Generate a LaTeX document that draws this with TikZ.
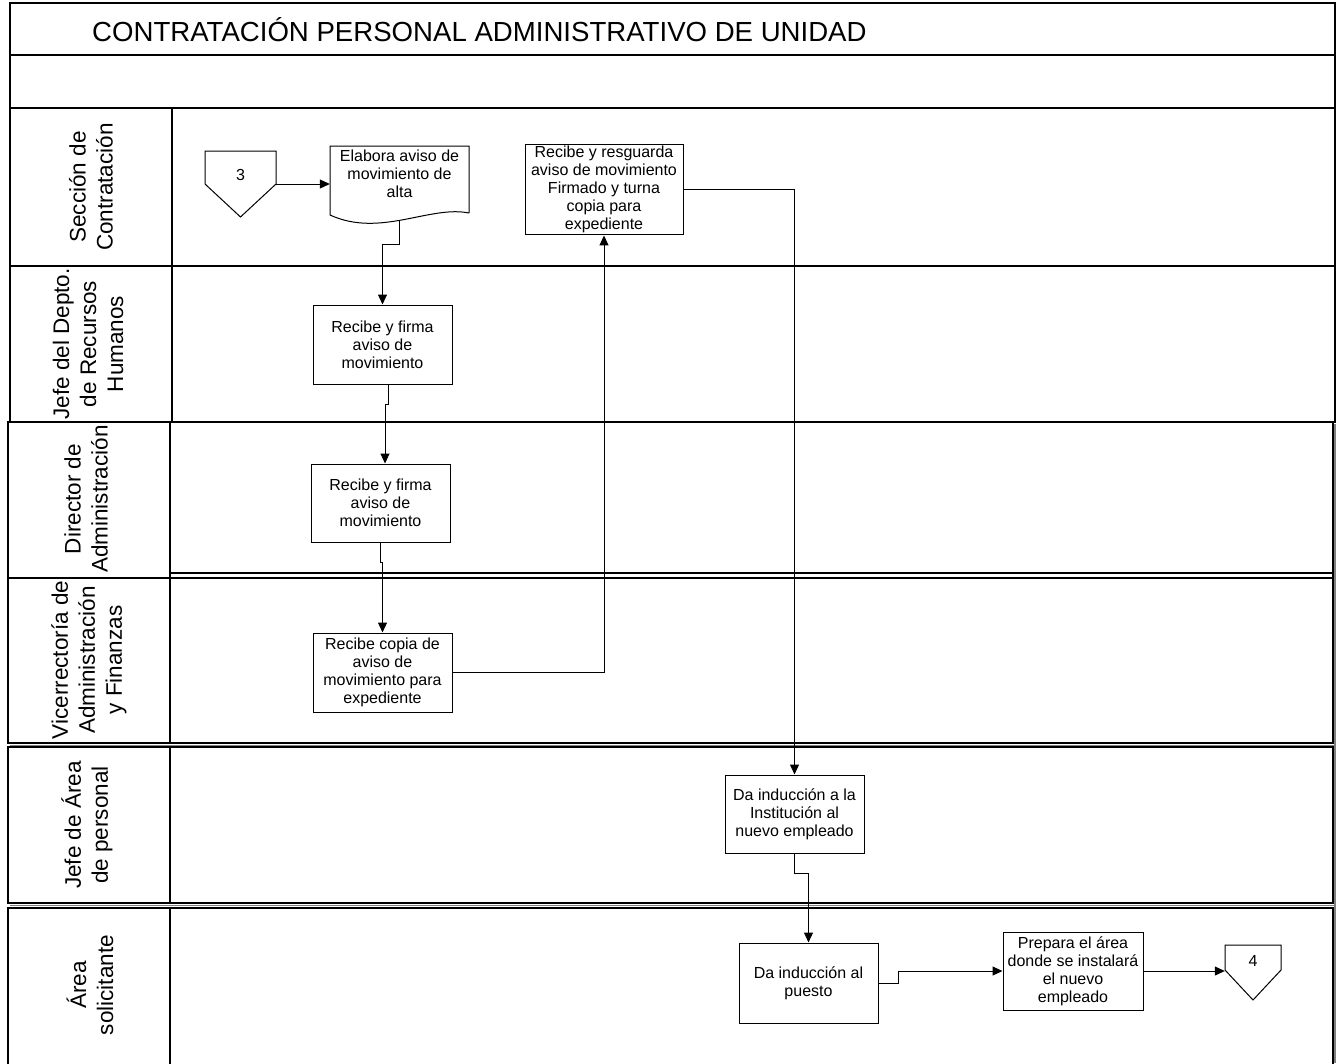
\documentclass[tikz,border=0pt]{standalone}
\usepackage{fontspec}
\setmainfont{Liberation Sans}
\usetikzlibrary{arrows.meta,calc}
\tikzset{
  proc/.style={draw, line width=1pt, align=center, inner sep=2pt, font=\fontsize{16}{18}\selectfont},
  lanelab/.style={rotate=90, align=center, inner sep=0pt, font=\fontsize{22.5}{27}\selectfont},
  arr/.style={line width=1pt, -{Triangle[length=10pt,width=9pt]}},
  lanebox/.style={line width=1.2pt},
  shade/.style={line width=1.4pt, gray},
  anchorbox/.style={inner sep=0pt},
  smalltext/.style={font=\fontsize{16}{18}\selectfont, align=center, inner sep=0pt}
}
\begin{document}
\begin{tikzpicture}[x=1pt,y=-1pt]
\useasboundingbox (0,0) rectangle (1340,1063);
% header
\draw[lanebox] (10,3) rectangle (1335,55);
\draw[lanebox] (10,55) rectangle (1335,108);
\node[anchor=west, inner sep=0pt, font=\fontsize{27.6}{32}\selectfont] (title) at (92,30) {CONTRATACIÓN PERSONAL ADMINISTRATIVO DE UNIDAD};
% lanes
\draw[shade] (1335,424) -- (1335,1063);
\draw[shade] (10,745.5) -- (1335,745.5);
\draw[shade] (10,905.5) -- (1335,905.5);
\draw[lanebox] (10,108) rectangle (1335,266);
\draw[lanebox] (172,108) -- (172,266);
\draw[lanebox] (10,266) rectangle (1335,422);
\draw[lanebox] (172,266) -- (172,422);
\draw[lanebox] (8,422) rectangle (1333,578);
\draw[lanebox] (170,422) -- (170,578);
\draw[lanebox] (170,573) -- (1333,573);
\draw[lanebox] (8,578) rectangle (1333,743);
\draw[lanebox] (170,578) -- (170,743);
\draw[lanebox] (8,747) rectangle (1333,903);
\draw[lanebox] (170,747) -- (170,903);
\draw[lanebox] (8,1070) -- (8,908) -- (1333,908) -- (1333,1070);
\draw[lanebox] (170,908) -- (170,1070);
% lane labels
\node[lanelab] (l1) at (91,187) {Sección de\\Contratación};
\node[lanelab] (l2) at (88,344) {Jefe del Depto.\\de Recursos\\Humanos};
\node[lanelab] (l3) at (86,499) {Director de\\Administración};
\node[lanelab] (l4) at (89,660) {Vicerrectoría de\\Administración\\y Finanzas};
\node[lanelab] (l5) at (87,825) {Jefe de Área\\de personal};
\node[lanelab] (l6) at (90,985) {Área\\solicitante};
% off-page connector 3
\draw[line width=1pt] (205,151) -- (276,151) -- (276,184) -- (240.5,217) -- (205,184) -- cycle;
\node[anchorbox, minimum width=71pt, minimum height=66pt] (c3) at (240.5,184) {};
\node[smalltext] (c3t) at (240.5,175) {3};
% document shape
\draw[line width=1pt] (469,213) -- (469,146) -- (330,146) -- (330,215)
  .. controls (380,238) and (430,205) .. (469,213);
\node[anchorbox, minimum width=139pt, minimum height=74pt] (doc) at (399.5,183) {};
\node[smalltext] (doct) at (399.5,174) {Elabora aviso de\\movimiento de\\alta};
% process boxes
\node[proc, minimum width=139pt, minimum height=79pt] (r1) at (382.5,344.5) {Recibe y firma\\aviso de\\movimiento};
\node[proc, minimum width=139pt, minimum height=78pt] (r2) at (380.5,503) {Recibe y firma\\aviso de\\movimiento};
\node[proc, minimum width=139pt, minimum height=79pt] (r3) at (382.5,672.5) {Recibe copia de\\aviso de\\movimiento para\\expediente};
\node[proc, minimum width=158pt, minimum height=89pt] (r4) at (604,189.5) {Recibe y resguarda\\aviso de movimiento\\Firmado y turna\\copia para\\expediente};
\node[proc, minimum width=139pt, minimum height=78pt] (r5) at (794.5,814) {Da inducción a la\\Institución al\\nuevo empleado};
\node[proc, minimum width=139pt, minimum height=80pt] (r6) at (808.5,983) {Da inducción al\\puesto};
\node[proc, minimum width=140pt, minimum height=78pt] (r7) at (1073,971) {Prepara el área\\donde se instalará\\el nuevo\\empleado};
% off-page connector 4
\draw[line width=1pt] (1225,945) -- (1281,945) -- (1281,970) -- (1253,1000) -- (1225,970) -- cycle;
\node[anchorbox, minimum width=56pt, minimum height=55pt] (c4) at (1253,972.5) {};
\node[smalltext] (c4t) at (1253,961) {4};
% connectors
\draw[arr] (c3.east) -- (c3.east -| doc.west);
\draw[arr] (doc.south) -- ++(0,24) -| (r1.north);
\draw[arr] ([xshift=5.5pt]r1.south) -- ++(0,20) -| ([xshift=4.5pt]r2.north);
\draw[arr] (r2.south) -- ++(0,20) -| (r3.north);
\draw[arr] (r3.east) -| (r4.south);
\draw[arr] (r4.east) -| (r5.north);
\draw[arr] (r5.south) -- ++(0,20) -| (r6.north);
\draw[arr] (r6.east) -- ++(20,0) |- (r7.west);
\draw[arr] (r7.east) -- (r7.east -| c4.west);
\end{tikzpicture}
\end{document}
